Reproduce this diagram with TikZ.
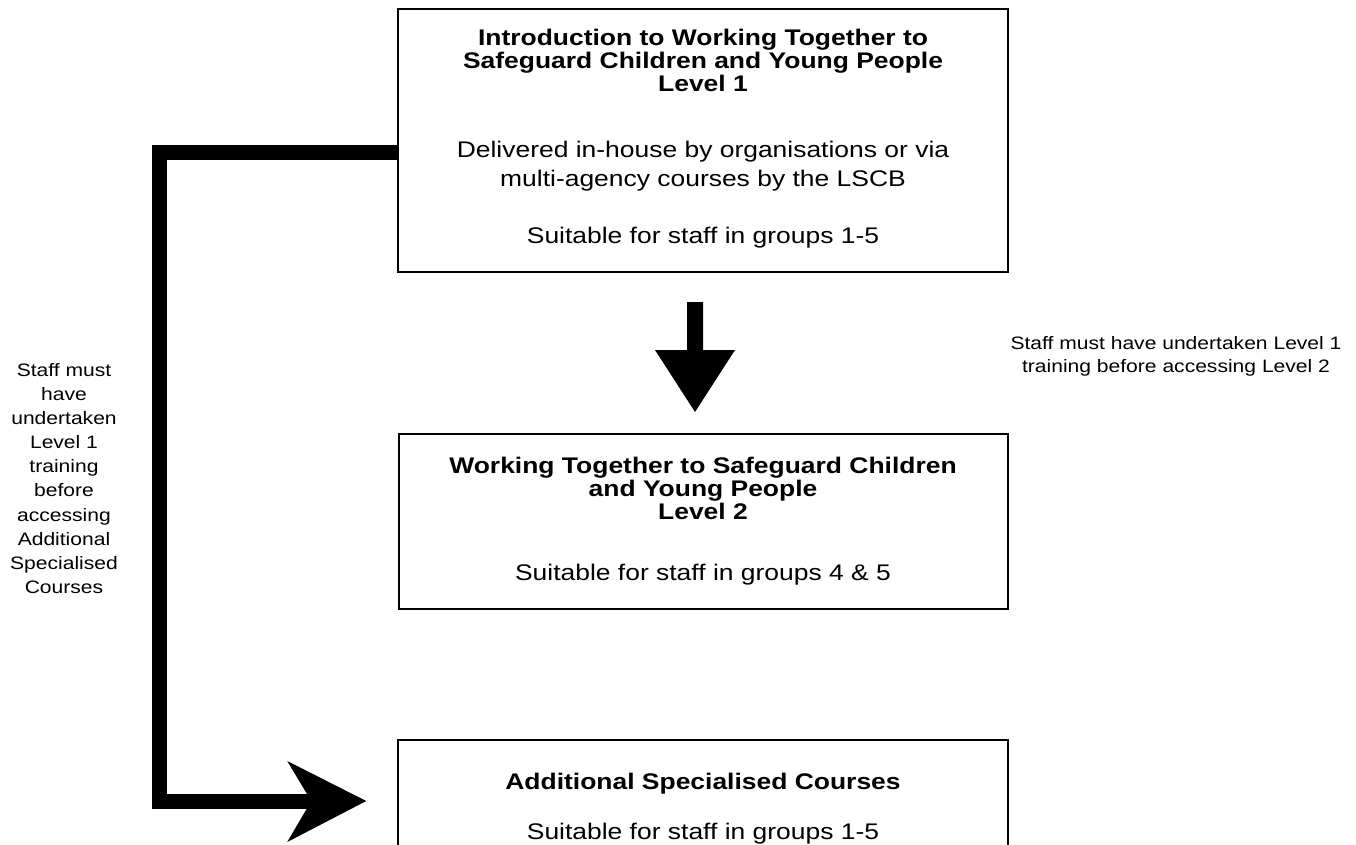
\documentclass[tikz,border=0pt]{standalone}
\usepackage{fontspec}
\setmainfont{Liberation Sans}[FakeStretch=1.17]
\usetikzlibrary{calc}
\begin{document}
\begin{tikzpicture}[x=1pt,y=-1pt,
  box/.style={draw, line width=1.5pt, rectangle, inner sep=0pt},
  ttl/.style={font=\fontsize{22.6}{23}\selectfont\bfseries, align=center, inner sep=0pt},
  txt/.style={font=\fontsize{22.6}{29}\selectfont, align=center, inner sep=0pt},
  note/.style={font=\fontsize{18}{23}\selectfont, align=center, inner sep=0pt},
  lnote/.style={font=\fontsize{18}{24.1}\selectfont, align=center, inner sep=0pt},
  bar/.style={line width=15pt, line cap=butt, line join=miter},
  head/.style={fill=black, draw=none}]
\useasboundingbox (0,0) rectangle (1356,845);
\clip (0,0) rectangle (1356,845);

% boxes
\node[box, minimum width=610pt, minimum height=263pt] (box1) at (703,140.5) {};
\node[box, minimum width=609pt, minimum height=175pt] (box2) at (703.5,521.5) {};
\node[box, minimum width=610pt, minimum height=122pt] (box3) at (703,801) {};

% box 1 texts
\node[ttl] (t1) at (703,60) {Introduction to Working Together to\\Safeguard Children and Young People\\Level 1};
\node[txt] (t1b) at (703,166.5) {Delivered in-house by organisations or via\\multi-agency courses by the LSCB};
\node[txt] (t1c) at (703,238) {Suitable for staff in groups 1-5};

% box 2 texts
\node[ttl] (t2) at (703,488) {Working Together to Safeguard Children\\and Young People\\Level 2};
\node[txt] (t2b) at (703,575) {Suitable for staff in groups 4 \& 5};

% box 3 texts
\node[ttl] (t3) at (703,784) {Additional Specialised Courses};
\node[txt] (t3b) at (703,834) {Suitable for staff in groups 1-5};

% notes
\node[note] (nr) at (1176,356.5) {Staff must have undertaken Level 1\\training before accessing Level 2};
\node[lnote] (nl) at (64,478.5) {Staff must\\have\\undertaken\\Level 1\\training\\before\\accessing\\Additional\\Specialised\\Courses};

% L-shaped connector from box1 to box3
\coordinate (c1) at ([yshift=-12.5pt]box1.west);
\coordinate (c2) at ($(box3.west)+(-86,0)$);
\draw[bar] (c1) -| (159.5,801) -- (c2);
\fill[head] ($(box3.west)+(-31,0)$) -- ($(box3.west)+(-110,-40)$) -- (c2) -- ($(box3.west)+(-110,41)$) -- cycle;

% down arrow between box1 and box2
\fill[head] (687,302) -- (703,302) -- (703,350) -- (735,350) -- (695,412) -- (655,350) -- (687,350) -- cycle;
\end{tikzpicture}
\end{document}
